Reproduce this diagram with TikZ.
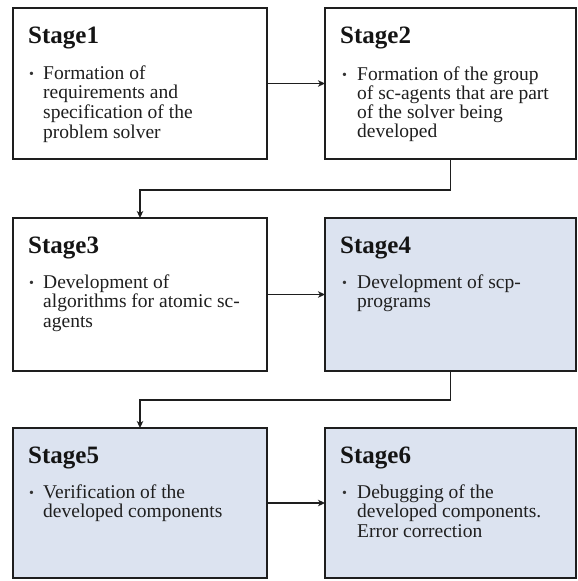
\documentclass[tikz,border=0pt]{standalone}
\usepackage{fontspec}
\setmainfont{Liberation Serif}
\usetikzlibrary{arrows.meta}

\definecolor{boxblue}{RGB}{220,227,240}
\definecolor{edge}{RGB}{30,30,30}

% stack of lines with a fixed baseline distance; baseline = first line
\newcommand\linestack[2]{\vtop{\baselineskip=#1\lineskiplimit=-100pt\lineskip=0pt\relax #2}}

\tikzset{
  stagebox/.style={rectangle, draw=edge, line width=1.6pt, inner sep=0pt, outer sep=0pt, fill=white},
  shaded/.style={fill=boxblue},
  stagetitle/.style={inner sep=0pt, anchor=base west, font=\fontsize{25}{28}\selectfont\bfseries, text=black!92},
  stagebody/.style={inner sep=0pt, anchor=base west, font=\fontsize{19.5}{20}\selectfont, text=black!88},
  stagedot/.style={inner sep=0pt, anchor=base west, font=\fontsize{14}{14}\selectfont, text=black!80},
  flow/.style={draw=edge, line width=1.5pt, -{Stealth[length=7pt,width=6.5pt,inset=2pt]}},
}

\begin{document}
\begin{tikzpicture}[x=1pt, y=-1pt]
  \useasboundingbox (0,0) rectangle (578,581);

  % boxes
  \node[stagebox, minimum width=254pt, minimum height=151pt] (s1) at (140,83.5) {};
  \node[stagebox, minimum width=251pt, minimum height=151pt] (s2) at (450.5,83.5) {};
  \node[stagebox, minimum width=254pt, minimum height=153pt] (s3) at (140,294.5) {};
  \node[stagebox, shaded, minimum width=251pt, minimum height=153pt] (s4) at (450.5,294.5) {};
  \node[stagebox, shaded, minimum width=254pt, minimum height=150pt] (s5) at (140,503) {};
  \node[stagebox, shaded, minimum width=251pt, minimum height=150pt] (s6) at (450.5,503) {};

  % titles
  \node[stagetitle] (t1) at (28,43) {Stage1};
  \node[stagetitle] (t2) at (340,43) {Stage2};
  \node[stagetitle] (t3) at (28,253) {Stage3};
  \node[stagetitle] (t4) at (340,253) {Stage4};
  \node[stagetitle] (t5) at (28,463) {Stage5};
  \node[stagetitle] (t6) at (340,463) {Stage6};

  % bullets
  \node[stagedot] (d1) at (29,78) {\textbullet};
  \node[stagedot] (d2) at (342,79) {\textbullet};
  \node[stagedot] (d3) at (29,287) {\textbullet};
  \node[stagedot] (d4) at (342,287) {\textbullet};
  \node[stagedot] (d5) at (29,497) {\textbullet};
  \node[stagedot] (d6) at (342,497) {\textbullet};

  % descriptions
  \node[stagebody] (b1) at (43,79) {\linestack{19.7pt}{\hbox{Formation  of}\hbox{requirements  and}\hbox{specification of the}\hbox{problem  solver}}};
  \node[stagebody] (b2) at (357,80) {\linestack{19pt}{\hbox{Formation  of the group}\hbox{of sc-agents that are part}\hbox{of the solver being}\hbox{developed}}};
  \node[stagebody] (b3) at (43,288) {\linestack{19.7pt}{\hbox{Development  of}\hbox{algorithms  for atomic  sc-}\hbox{agents}}};
  \node[stagebody] (b4) at (357,288) {\linestack{19.7pt}{\hbox{Development  of scp-}\hbox{programs}}};
  \node[stagebody] (b5) at (43,498) {\linestack{19.7pt}{\hbox{Verification  of the}\hbox{developed  components}}};
  \node[stagebody] (b6) at (357,498) {\linestack{19.7pt}{\hbox{Debugging  of the}\hbox{developed  components.}\hbox{Error correction}}};

  % connectors
  \draw[flow] (s1.east) -- (s2.west);
  \draw[flow] (s3.east) -- (s4.west);
  \draw[flow] (s5.east) -- (s6.west);
  \draw[flow] (s2.south) -- ++(0,31) -| (s3.north);
  \draw[flow] (s4.south) -- ++(0,29) -| (s5.north);
\end{tikzpicture}
\end{document}
